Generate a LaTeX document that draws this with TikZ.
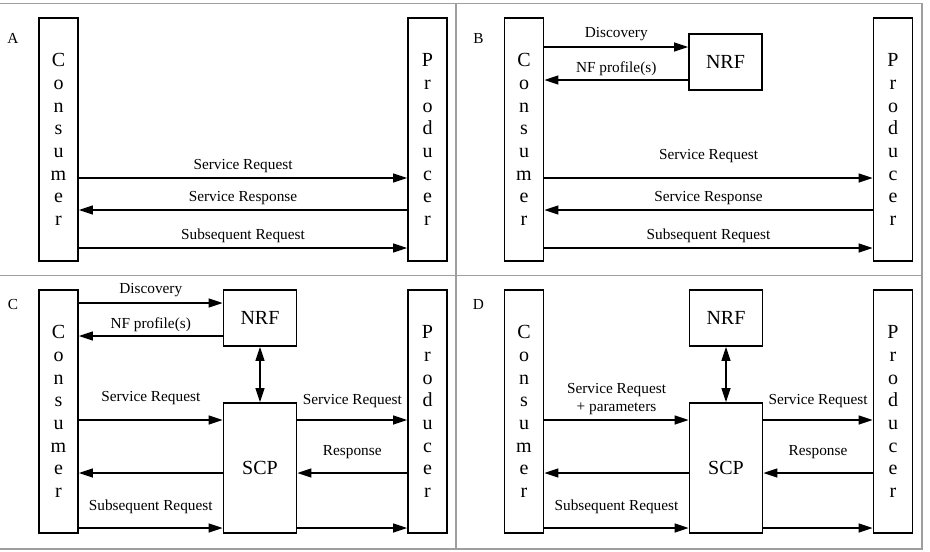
\documentclass[tikz,border=0pt]{standalone}
\usepackage{fontspec}
\setmainfont{Liberation Serif}
\usetikzlibrary{arrows.meta,positioning}
\definecolor{framegray}{gray}{0.62}
\tikzset{nf box/.style={draw, line width=1.8pt, inner sep=0pt, align=center, font=\fontsize{20}{22.7}\selectfont},
	side box/.style={nf box, minimum width=39pt, minimum height=243pt},
	fn box/.style={nf box, minimum width=73pt, minimum height=56pt},
	msg/.style={-{Triangle[length=14pt,width=9pt]}, line width=1.5pt},
	both msg/.style={{Triangle[length=14pt,width=9pt]}-{Triangle[length=14pt,width=9pt]}, line width=1.5pt},
	msg label/.style={font=\fontsize{15.3}{18}\selectfont, inner sep=0pt, align=center},
	panel frame/.style={draw=framegray, line width=1.2pt}}
\begin{document}
\begin{tikzpicture}[x=1pt, y=-1pt]
	\useasboundingbox (0,0) rectangle (930,552);
	\draw[panel frame] (0,3.5) -- (922,3.5) -- (922,549) -- (0,549);
	\draw[panel frame] (456,3.5) -- (456,549) (0,275.5) -- (922,275.5);

	\foreach \p/\dx/\dy/\ly in {A/0/0/43, B/465.5/0/43, C/0/272/309, D/465.5/272/309}{
		\node[msg label, anchor=base] (tag\p) at (13+\dx,\ly) {\p};
		\node[side box] (cons\p) at (58.5+\dx,139.5+\dy) {C\\o\\n\\s\\u\\m\\e\\r};
		\node[side box] (prod\p) at (427.5+\dx,139.5+\dy) {P\\r\\o\\d\\u\\c\\e\\r};
	}

	% direct exchange
	\foreach \p/\up in {A/4pt, B/14.7pt}{
		\draw[msg] ([yshift=-38.5pt]cons\p.east) -- node[msg label, above=\up] {Service Request} ([yshift=-38.5pt]prod\p.west);
		\draw[msg] ([yshift=-70.5pt]prod\p.west) -- node[msg label, above=4pt] {Service Response} ([yshift=-70.5pt]cons\p.east);
		\draw[msg] ([yshift=-108.5pt]cons\p.east) -- node[msg label, above=4pt] {Subsequent Request} ([yshift=-108.5pt]prod\p.west);
	}
	\node[fn box] (nrfB) at (725.5,62) {NRF};
	\draw[msg] ([yshift=92.5pt]consB.east) -- node[msg label, above=5pt] {Discovery} ([yshift=15pt]nrfB.west);
	\draw[msg] ([yshift=-18pt]nrfB.west) -- node[msg label, above=3.7pt] {NF profile(s)} ([yshift=59.5pt]consB.east);

	% exchange through the SCP
	\foreach \p/\dx in {C/0, D/466}{
		\node[fn box] (nrf\p) at (260+\dx,318) {NRF};
		\node[fn box, minimum height=130pt] (scp\p) at (260+\dx,468) {SCP};
		\draw[both msg] (nrf\p) -- (scp\p);
		\draw[msg] ([yshift=48pt]scp\p.east) -- node[msg label, above=11.7pt] {Service Request} ([yshift=-8.5pt]prod\p.west);
		\draw[msg] ([yshift=-61.5pt]prod\p.west) -- node[msg label, above=13.7pt] {Response} ([yshift=-5pt]scp\p.east);
		\draw[msg] ([yshift=-5pt]scp\p.west) -- ([yshift=-61.5pt]cons\p.east);
		\draw[msg] ([yshift=-116.5pt]cons\p.east) -- node[msg label, above=13.7pt] {Subsequent Request} ([yshift=-60pt]scp\p.west);
		\draw[msg] ([yshift=-60pt]scp\p.east) -- ([yshift=-116.5pt]prod\p.west);
	}
	\draw[msg] ([yshift=108.5pt]consC.east) -- node[msg label, above=5pt] {Discovery} ([yshift=15pt]nrfC.west);
	\draw[msg] ([yshift=-18pt]nrfC.west) -- node[msg label, above=3.7pt] {NF profile(s)} ([yshift=75.5pt]consC.east);
	\draw[msg] ([yshift=-8.5pt]consC.east) -- node[msg label, above=14.7pt] {Service Request} ([yshift=48pt]scpC.west);
	\draw[msg] ([yshift=-8.5pt]consD.east) -- node[msg label, above=4pt] {Service Request\\+ parameters} ([yshift=48pt]scpD.west);
\end{tikzpicture}
\end{document}
